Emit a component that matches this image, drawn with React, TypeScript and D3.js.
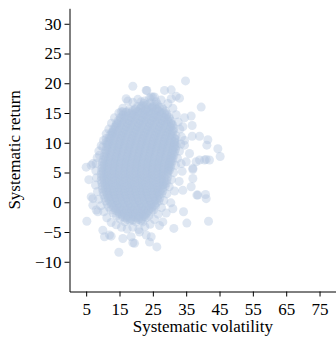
import { useEffect, useRef } from 'react';
import * as d3 from 'd3';

const W = 336;
const H = 338;

const xTicks = [5, 15, 25, 35, 45, 55, 65, 75];
const yTicks = [-10, -5, 0, 5, 10, 15, 20, 25, 30];
const xLabel = 'Systematic volatility';
const yLabel = 'Systematic return';

const corePoints: [number, number][] = [
  [21.6,16.2],[23.2,16.4],[24.9,16.1],[26.3,16.5],
  [19.7,15.7],[21.3,15.9],[22.9,15.6],[24.6,15.9],[26.2,15.7],[27.8,15.9],
  [17.2,15.2],[18.9,15.4],[20.5,15.2],[22.2,15.4],[23.8,15.2],[25.5,15.4],[27.1,15.2],[28.8,15.3],
  [16.1,14.7],[17.8,14.9],[19.4,14.7],[21.1,14.9],[22.7,14.7],[24.4,14.9],[26,14.7],[27.7,14.9],[29.3,14.8],
  [15.2,14.2],[16.8,14.4],[18.5,14.2],[20.1,14.4],[21.8,14.2],[23.4,14.4],[25.1,14.2],[26.7,14.4],[28.3,14.2],[29.9,14.3],
  [14.6,13.7],[16.2,13.9],[17.9,13.7],[19.5,13.9],[21.2,13.7],[22.8,13.9],[24.5,13.7],[26.1,13.9],[27.8,13.7],[29.4,13.9],[30.5,13.6],
  [14.1,13.2],[15.6,13.4],[17.3,13.2],[18.9,13.4],[20.6,13.2],[22.2,13.4],[23.9,13.2],[25.5,13.4],[27.2,13.2],[28.8,13.4],[30.4,13.2],
  [13.6,12.7],[15.2,12.9],[16.9,12.7],[18.5,12.9],[20.2,12.7],[21.8,12.9],[23.5,12.7],[25.1,12.9],[26.8,12.7],[28.4,12.9],[30.1,12.7],[31,12.9],
  [13.1,12.2],[14.7,12.4],[16.4,12.2],[18,12.4],[19.7,12.2],[21.3,12.4],[23,12.2],[24.6,12.4],[26.3,12.2],[27.9,12.4],[29.6,12.2],[31.3,12.4],
  [12.6,11.7],[14.2,11.9],[15.9,11.7],[17.5,11.9],[19.2,11.7],[20.8,11.9],[22.5,11.7],[24.1,11.9],[25.8,11.7],[27.4,11.9],[29.1,11.7],[30.7,11.9],
  [12.1,11.2],[13.8,11.4],[15.4,11.2],[17.1,11.4],[18.7,11.2],[20.4,11.4],[22,11.2],[23.7,11.4],[25.3,11.2],[27,11.4],[28.6,11.2],[30.3,11.4],[31.9,11.2],
  [11.9,10.7],[13.5,10.9],[15.2,10.7],[16.8,10.9],[18.5,10.7],[20.1,10.9],[21.8,10.7],[23.4,10.9],[25.1,10.7],[26.7,10.9],[28.4,10.7],[30,10.9],[31.6,10.7],
  [11.6,10.2],[13.2,10.4],[14.9,10.2],[16.5,10.4],[18.2,10.2],[19.8,10.4],[21.5,10.2],[23.1,10.4],[24.8,10.2],[26.4,10.4],[28.1,10.2],[29.7,10.4],[31.4,10.2],
  [11.3,9.7],[12.9,9.9],[14.6,9.7],[16.2,9.9],[17.9,9.7],[19.5,9.9],[21.2,9.7],[22.8,9.9],[24.5,9.7],[26.1,9.9],[27.8,9.7],[29.4,9.9],[31.1,9.7],[32,9.9],
  [11.1,9.2],[12.7,9.4],[14.4,9.2],[16,9.4],[17.7,9.2],[19.3,9.4],[21,9.2],[22.6,9.4],[24.3,9.2],[25.9,9.4],[27.6,9.2],[29.2,9.4],[30.9,9.2],[32,9.4],
  [10.9,8.7],[12.5,8.9],[14.2,8.7],[15.8,8.9],[17.5,8.7],[19.1,8.9],[20.8,8.7],[22.4,8.9],[24.1,8.7],[25.7,8.9],[27.4,8.7],[29,8.9],[30.7,8.7],[31.8,8.9],
  [10.6,8.2],[12.2,8.4],[13.9,8.2],[15.5,8.4],[17.2,8.2],[18.8,8.4],[20.5,8.2],[22.1,8.4],[23.8,8.2],[25.4,8.4],[27.1,8.2],[28.7,8.4],[30.4,8.2],[31.5,8.4],
  [10.4,7.7],[12,7.9],[13.7,7.7],[15.3,7.9],[17,7.7],[18.6,7.9],[20.3,7.7],[21.9,7.9],[23.6,7.7],[25.2,7.9],[26.9,7.7],[28.5,7.9],[30.2,7.7],[31.3,7.9],
  [10.1,7.2],[11.7,7.4],[13.4,7.2],[15,7.4],[16.7,7.2],[18.3,7.4],[20,7.2],[21.6,7.4],[23.3,7.2],[24.9,7.4],[26.6,7.2],[28.2,7.4],[29.9,7.2],[31,7.4],
  [9.9,6.7],[11.5,6.9],[13.2,6.7],[14.8,6.9],[16.5,6.7],[18.1,6.9],[19.8,6.7],[21.4,6.9],[23.1,6.7],[24.7,6.9],[26.4,6.7],[28,6.9],[29.7,6.7],[30.8,6.9],
  [9.8,6.2],[11.4,6.4],[13.1,6.2],[14.7,6.4],[16.4,6.2],[18,6.4],[19.7,6.2],[21.3,6.4],[23,6.2],[24.6,6.4],[26.3,6.2],[27.9,6.4],[29.6,6.2],[30.5,6.4],
  [9.7,5.7],[11.3,5.9],[13,5.7],[14.6,5.9],[16.3,5.7],[17.9,5.9],[19.6,5.7],[21.2,5.9],[22.9,5.7],[24.5,5.9],[26.2,5.7],[27.8,5.9],[29.5,5.7],[30.3,5.9],
  [9.6,5.2],[11.2,5.4],[12.9,5.2],[14.5,5.4],[16.2,5.2],[17.8,5.4],[19.5,5.2],[21.1,5.4],[22.8,5.2],[24.4,5.4],[26.1,5.2],[27.7,5.4],[29.4,5.2],[30,5.4],
  [9.5,4.7],[11.1,4.9],[12.8,4.7],[14.4,4.9],[16.1,4.7],[17.7,4.9],[19.4,4.7],[21,4.9],[22.7,4.7],[24.3,4.9],[26,4.7],[27.6,4.9],[29.3,4.7],
  [9.6,4.2],[11.2,4.4],[12.9,4.2],[14.5,4.4],[16.2,4.2],[17.8,4.4],[19.5,4.2],[21.1,4.4],[22.8,4.2],[24.4,4.4],[26.1,4.2],[27.7,4.4],[29.4,4.2],
  [9.5,3.7],[11.1,3.9],[12.8,3.7],[14.4,3.9],[16.1,3.7],[17.7,3.9],[19.4,3.7],[21,3.9],[22.7,3.7],[24.3,3.9],[26,3.7],[27.6,3.9],[29.2,3.7],
  [9.7,3.2],[11.3,3.4],[13,3.2],[14.6,3.4],[16.3,3.2],[17.9,3.4],[19.6,3.2],[21.2,3.4],[22.9,3.2],[24.5,3.4],[26.2,3.2],[27.8,3.4],[29,3.2],
  [9.8,2.7],[11.4,2.9],[13.1,2.7],[14.7,2.9],[16.4,2.7],[18,2.9],[19.7,2.7],[21.3,2.9],[23,2.7],[24.6,2.9],[26.3,2.7],[27.9,2.9],[28.7,2.7],
  [9.9,2.2],[11.5,2.4],[13.2,2.2],[14.8,2.4],[16.5,2.2],[18.1,2.4],[19.8,2.2],[21.4,2.4],[23.1,2.2],[24.7,2.4],[26.4,2.2],[28,2.4],
  [10.1,1.7],[11.7,1.9],[13.4,1.7],[15,1.9],[16.7,1.7],[18.3,1.9],[20,1.7],[21.6,1.9],[23.3,1.7],[24.9,1.9],[26.6,1.7],[28,1.9],
  [10.3,1.2],[11.9,1.4],[13.6,1.2],[15.2,1.4],[16.9,1.2],[18.5,1.4],[20.2,1.2],[21.8,1.4],[23.5,1.2],[25.1,1.4],[26.8,1.2],[27.6,1.4],
  [10.6,0.7],[12.2,0.9],[13.9,0.7],[15.5,0.9],[17.2,0.7],[18.8,0.9],[20.5,0.7],[22.1,0.9],[23.8,0.7],[25.4,0.9],[27.1,0.7],
  [10.9,0.2],[12.5,0.4],[14.2,0.2],[15.8,0.4],[17.5,0.2],[19.1,0.4],[20.8,0.2],[22.4,0.4],[24.1,0.2],[25.7,0.4],[26.8,0.2],
  [11.3,-0.3],[12.9,-0.1],[14.6,-0.3],[16.2,-0.1],[17.9,-0.3],[19.5,-0.1],[21.2,-0.3],[22.8,-0.1],[24.5,-0.3],[26.1,-0.1],
  [11.8,-0.8],[13.4,-0.6],[15.1,-0.8],[16.7,-0.6],[18.4,-0.8],[20,-0.6],[21.7,-0.8],[23.3,-0.6],[25,-0.8],[25.8,-0.6],
  [12.4,-1.3],[14,-1.1],[15.7,-1.3],[17.3,-1.1],[19,-1.3],[20.6,-1.1],[22.3,-1.3],[23.9,-1.1],[25.2,-1.3],
  [13.1,-1.8],[14.7,-1.6],[16.4,-1.8],[18,-1.6],[19.7,-1.8],[21.3,-1.6],[23,-1.8],[24.5,-1.6],
  [14.1,-2.3],[15.7,-2.1],[17.4,-2.3],[19,-2.1],[20.7,-2.3],[22.3,-2.1],[23.8,-2.3],
  [15.1,-2.8],[16.7,-2.6],[18.4,-2.8],[20,-2.6],[21.7,-2.8],[23,-2.6],
  [16.6,-3.3],[18.2,-3.1],[19.9,-3.3],[21.5,-3.1],[22,-3.3],
];

// the denser centre, lying between the points above
const innerPoints: [number, number][] = [
  [22.4,16.6],[24.1,16.7],[25.6,16.4],
  [20.5,16.1],[22.1,16.2],[23.8,16.0],[25.4,16.2],[27,16.0],
  [18,15.6],[19.7,15.5],[21.4,15.7],[23,15.5],[24.7,15.7],[26.3,15.5],[28,15.6],
  [16.9,15.1],[18.6,15.0],[20.3,15.2],[21.9,15.0],[23.6,15.2],[25.2,15.0],[26.9,15.2],[28.5,15.0],
  [16,14.6],[17.6,14.5],[19.3,14.7],[20.9,14.5],[22.6,14.7],[24.2,14.5],[25.9,14.6],[27.5,14.5],[29.1,14.6],
  [15.4,14.1],[17,14.0],[18.7,14.2],[20.3,14.0],[22,14.1],[23.6,14.0],[25.3,14.2],[26.9,14.0],[28.6,14.1],[30,14.0],
  [14.9,13.6],[16.5,13.5],[18.1,13.6],[19.8,13.5],[21.4,13.6],[23.1,13.5],[24.7,13.6],[26.4,13.5],[28,13.6],[29.6,13.5],
  [14.4,13.1],[16,13.0],[17.7,13.1],[19.3,13.0],[21,13.1],[22.6,13.0],[24.3,13.1],[25.9,13.0],[27.6,13.1],[29.2,13.0],[30.7,13.1],
  [13.9,12.6],[15.5,12.5],[17.2,12.6],[18.8,12.5],[20.5,12.6],[22.1,12.5],[23.8,12.6],[25.4,12.5],[27.1,12.6],[28.7,12.5],[30.4,12.6],
  [13.4,12.1],[15,12.0],[16.7,12.1],[18.3,12.0],[20,12.1],[21.6,12.0],[23.3,12.1],[24.9,12.0],[26.6,12.1],[28.2,12.0],[29.9,12.1],[31.1,12.0],
  [12.9,11.6],[14.5,11.5],[16.2,11.6],[17.8,11.5],[19.5,11.6],[21.1,11.5],[22.8,11.6],[24.4,11.5],[26.1,11.6],[27.7,11.5],[29.4,11.6],[31,11.5],
  [12.6,11.1],[14.2,11.0],[15.9,11.1],[17.5,11.0],[19.2,11.1],[20.8,11.0],[22.5,11.1],[24.1,11.0],[25.8,11.1],[27.4,11.0],[29.1,11.1],[30.8,11.0],
  [12.3,10.6],[13.9,10.5],[15.6,10.6],[17.2,10.5],[18.9,10.6],[20.5,10.5],[22.2,10.6],[23.8,10.5],[25.5,10.6],[27.1,10.5],[28.8,10.6],[30.5,10.5],[31.7,10.6],
  [12,10.1],[13.6,10.0],[15.3,10.1],[16.9,10.0],[18.6,10.1],[20.2,10.0],[21.9,10.1],[23.5,10.0],[25.2,10.1],[26.8,10.0],[28.5,10.1],[30.2,10.0],[31.6,10.1],
  [11.8,9.6],[13.4,9.5],[15.1,9.6],[16.7,9.5],[18.4,9.6],[20,9.5],[21.7,9.6],[23.3,9.5],[25,9.6],[26.6,9.5],[28.3,9.6],[29.9,9.5],[31.5,9.6],
  [11.6,9.1],[13.2,9.0],[14.9,9.1],[16.5,9.0],[18.2,9.1],[19.8,9.0],[21.5,9.1],[23.1,9.0],[24.8,9.1],[26.4,9.0],[28.1,9.1],[29.7,9.0],[31.3,9.1],
  [11.3,8.6],[12.9,8.5],[14.6,8.6],[16.2,8.5],[17.9,8.6],[19.5,8.5],[21.2,8.6],[22.8,8.5],[24.5,8.6],[26.1,8.5],[27.8,8.6],[29.4,8.5],[31,8.6],
  [11.1,8.1],[12.7,8.0],[14.4,8.1],[16,8.0],[17.7,8.1],[19.3,8.0],[21,8.1],[22.6,8.0],[24.3,8.1],[25.9,8.0],[27.6,8.1],[29.2,8.0],[30.8,8.1],
  [10.9,7.6],[12.5,7.5],[14.2,7.6],[15.8,7.5],[17.5,7.6],[19.1,7.5],[20.8,7.6],[22.4,7.5],[24.1,7.6],[25.7,7.5],[27.4,7.6],[29,7.5],[30.6,7.6],
  [10.7,7.1],[12.3,7.0],[14,7.1],[15.6,7.0],[17.3,7.1],[18.9,7.0],[20.6,7.1],[22.2,7.0],[23.9,7.1],[25.5,7.0],[27.2,7.1],[28.8,7.0],[30.3,7.1],
  [10.5,6.6],[12.1,6.5],[13.8,6.6],[15.4,6.5],[17.1,6.6],[18.7,6.5],[20.4,6.6],[22,6.5],[23.7,6.6],[25.3,6.5],[27,6.6],[28.6,6.5],[30.1,6.6],
  [10.4,6.1],[12,6.0],[13.7,6.1],[15.3,6.0],[17,6.1],[18.6,6.0],[20.3,6.1],[21.9,6.0],[23.6,6.1],[25.2,6.0],[26.9,6.1],[28.5,6.0],[29.9,6.1],
  [10.3,5.6],[11.9,5.5],[13.6,5.6],[15.2,5.5],[16.9,5.6],[18.5,5.5],[20.2,5.6],[21.8,5.5],[23.5,5.6],[25.1,5.5],[26.8,5.6],[28.4,5.5],[29.7,5.6],
  [10.2,5.1],[11.8,5.0],[13.5,5.1],[15.1,5.0],[16.8,5.1],[18.4,5.0],[20.1,5.1],[21.7,5.0],[23.4,5.1],[25,5.0],[26.7,5.1],[28.3,5.0],[29.6,5.1],
  [10.3,4.6],[11.9,4.5],[13.6,4.6],[15.2,4.5],[16.9,4.6],[18.5,4.5],[20.2,4.6],[21.8,4.5],[23.5,4.6],[25.1,4.5],[26.8,4.6],[28.4,4.5],
  [10.3,4.1],[11.9,4.0],[13.6,4.1],[15.2,4.0],[16.9,4.1],[18.5,4.0],[20.2,4.1],[21.8,4.0],[23.5,4.1],[25.1,4.0],[26.8,4.1],[28.4,4.0],
  [10.4,3.6],[12,3.5],[13.7,3.6],[15.3,3.5],[17,3.6],[18.6,3.5],[20.3,3.6],[21.9,3.5],[23.6,3.6],[25.2,3.5],[26.9,3.6],[28.4,3.5],
  [10.5,3.1],[12.1,3.0],[13.8,3.1],[15.4,3.0],[17.1,3.1],[18.7,3.0],[20.4,3.1],[22,3.0],[23.7,3.1],[25.3,3.0],[27,3.1],[28.3,3.0],
  [10.7,2.6],[12.3,2.5],[14,2.6],[15.6,2.5],[17.3,2.6],[18.9,2.5],[20.6,2.6],[22.2,2.5],[23.9,2.6],[25.5,2.5],[27.1,2.6],
  [10.9,2.1],[12.5,2.0],[14.2,2.1],[15.8,2.0],[17.5,2.1],[19.1,2.0],[20.8,2.1],[22.4,2.0],[24.1,2.1],[25.7,2.0],[27.3,2.1],
  [11.1,1.6],[12.7,1.5],[14.4,1.6],[16,1.5],[17.7,1.6],[19.3,1.5],[21,1.6],[22.6,1.5],[24.3,1.6],[25.9,1.5],[27.1,1.6],
  [11.4,1.1],[13,1.0],[14.7,1.1],[16.3,1.0],[18,1.1],[19.6,1.0],[21.3,1.1],[22.9,1.0],[24.6,1.1],[26.2,1.0],
  [11.7,0.6],[13.3,0.5],[15,0.6],[16.6,0.5],[18.3,0.6],[19.9,0.5],[21.6,0.6],[23.2,0.5],[24.9,0.6],[26.3,0.5],
  [12.1,0.1],[13.7,0.0],[15.4,0.1],[17,0.0],[18.7,0.1],[20.3,0.0],[22,0.1],[23.6,0.0],[25.3,0.1],
  [12.6,-0.4],[14.2,-0.5],[15.9,-0.4],[17.5,-0.5],[19.2,-0.4],[20.8,-0.5],[22.5,-0.4],[24.1,-0.5],[25.5,-0.4],
  [13.2,-0.9],[14.8,-1.0],[16.5,-0.9],[18.1,-1.0],[19.8,-0.9],[21.4,-1.0],[23.1,-0.9],[24.6,-1.0],
  [13.9,-1.4],[15.5,-1.5],[17.2,-1.4],[18.8,-1.5],[20.5,-1.4],[22.1,-1.5],[23.7,-1.4],
  [14.9,-1.9],[16.5,-2.0],[18.2,-1.9],[19.8,-2.0],[21.5,-1.9],[23,-2.0],
  [15.9,-2.4],[17.5,-2.5],[19.2,-2.4],[20.8,-2.5],[22.4,-2.4],
  [17.4,-2.9],[19,-3.0],[20.7,-2.9],
];

// fuzzy rim around the body
const rimPoints: [number, number][] = [
  [19,16.8],[20.5,17.3],[22.5,17],[24,17.5],[26,16.9],[27.5,17.2],[29.5,16.6],[30.5,17.4],
  [16,15.8],[14.8,15],[13.5,14.2],[12.6,13.3],[11.8,12.3],[11,11.5],[10.2,10.4],
  [9.5,9.5],[8.8,8.6],[8.3,7.5],[8,6.5],[7.9,5.3],[8.1,4.1],[7.8,2.9],[8.4,1.8],[8.8,0.5],[9.4,-0.6],[10.3,-1.6],[11.2,-2.6],
  [12.5,-3.4],[14,-3.8],[15.6,-4.2],[17.3,-4.5],[19,-4.2],[20.8,-4.6],[22.6,-4.1],[24.2,-3.7],[25.5,-2.9],
  [26.6,-2],[27.6,-0.9],[28.3,0.3],[29.2,1.4],[29.9,2.6],[30.6,3.8],[31.2,5],[31.8,6.2],[32.4,7.4],[33,8.6],
  [33.4,9.8],[33.6,11],[33.1,12.3],[32.6,13.5],[32,14.7],[31,15.8],
  [34.5,10.4],[34,12.7],[33.8,5.2],[32.9,3.5],[31.5,1.9],[30.4,-0.1],[29,-1.8],
];

// scattered points outside the body
const outerPoints: [number, number][] = [
  [34.8,20.4],[19,19.5],[23.2,18.8],[25,17.7],[28.5,18.8],[30.5,18.9],[32,17.8],[39.5,16],
  [17.5,17],[16,15.2],[36.5,14.5],[36.8,12.9],[39,11.1],[41.5,10.5],[44.5,9],[45.2,7.7],
  [41,7.2],[39,7.1],[37,5.5],[37,4],[38.2,1.2],[40.8,1.3],[41,0.6],[41.7,-3.2],[34.2,-1.6],
  [35.2,-3.5],[31.3,-4.4],[26.2,-7.5],[14.8,-8.4],[24,-6.7],[19.5,-6.9],[10.5,-5.8],[12.5,-5.7],
  [5.2,-3.2],[5.8,3.8],[6.5,6.2],[7,0.6],[8,-1.3],[11,10.1],[13,11.8],
  [23,18.8],[24.5,17.7],[17,17.4],[21.5,16.9],[15.5,15.2],[14,12.9],[13,11.5],[11,10.7],[10,9.3],
  [7,6.5],[9,7.9],[33,17.5],[25.5,17.7],[34.5,14.2],[36.8,11.1],[41.2,9.6],[36,8.2],[34.5,9.6],
  [40.5,7.1],[42,7.1],[38,6.8],[35,6.8],[33.5,6.5],[37,5.7],[34,2],[36.5,2.6],[38.5,1.2],
  [31,-1.1],[28,-3.3],[27,-3.9],[24.5,-5.8],[6.5,0.9],[7,-0.5],[8.5,-1.6],[10,-4.7],[12,-5.5],
  [16,-6.1],[19,-6.8],[18.5,-5.8],[21,-5],[23,-5.5],[5,5.9],
];

const serif = "'Times New Roman', 'Liberation Serif', 'DejaVu Serif', serif";

export default function App() {
  const svgRef = useRef<SVGSVGElement>(null);

  useEffect(() => {
    const svg = d3.select(svgRef.current);
    svg.selectAll('*').remove();

    const x = d3.scaleLinear().domain([0, 80]).range([69.5, 336.2]);
    const y = d3.scaleLinear().domain([-15, 32.6]).range([291.5, 8.3]);

    const all = [...outerPoints, ...rimPoints, ...corePoints, ...innerPoints];

    svg.append('g')
      .selectAll('circle')
      .data(all)
      .enter()
      .append('circle')
      .attr('cx', d => x(d[0]))
      .attr('cy', d => y(d[1]))
      .attr('r', 4.5)
      .attr('fill', '#b0c4de')
      .attr('fill-opacity', 0.4);

    const fmt = (d: d3.NumberValue) => {
      const v = +d;
      return v < 0 ? '\u2212' + Math.abs(v) : String(v);
    };

    const xAxis = svg.append('g')
      .attr('transform', `translate(0,${y(-15)})`)
      .call(d3.axisBottom(x).tickValues(xTicks).tickFormat(fmt).tickSize(5).tickSizeOuter(0).tickPadding(6));

    const yAxis = svg.append('g')
      .attr('transform', `translate(${x(0)},0)`)
      .call(d3.axisLeft(y).tickValues(yTicks).tickFormat(fmt).tickSize(5).tickSizeOuter(0).tickPadding(3));

    [xAxis, yAxis].forEach(g => {
      g.attr('font-family', serif).attr('font-size', 17);
      g.selectAll('path, line').attr('stroke', '#000').attr('stroke-width', 1);
      g.selectAll('text').attr('fill', '#000');
    });

    svg.append('text')
      .attr('x', (x(0) + x(80)) / 2)
      .attr('y', 332)
      .attr('text-anchor', 'middle')
      .attr('font-family', serif)
      .attr('font-size', 17)
      .text(xLabel);

    svg.append('text')
      .attr('transform', `translate(20,${(y(-15) + y(32.6)) / 2}) rotate(-90)`)
      .attr('text-anchor', 'middle')
      .attr('font-family', serif)
      .attr('font-size', 17)
      .text(yLabel);
  }, []);

  return (
    <div style={{ position: 'absolute', left: 0, top: 0 }}>
      <svg ref={svgRef} width={W} height={H} style={{ display: 'block', background: '#fff' }} />
    </div>
  );
}
